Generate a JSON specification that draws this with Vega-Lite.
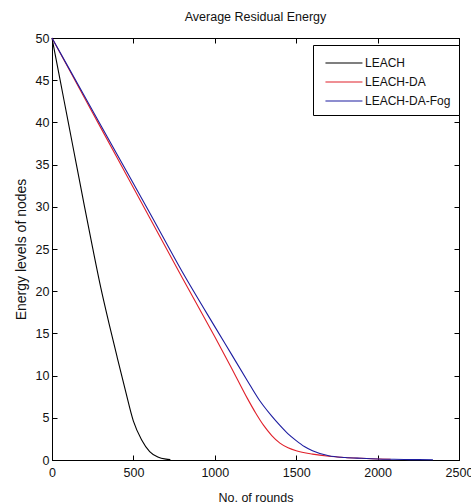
{
  "$schema": "https://vega.github.io/schema/vega-lite/v6.json",
  "autosize": "none",
  "width": 407,
  "height": 422,
  "padding": {"left": 52, "top": 38, "right": 12, "bottom": 44},
  "background": "white",
  "config": {
    "font": "Liberation Sans",
    "view": {"stroke": "black", "strokeWidth": 1},
    "axis": {"grid": false, "domainColor": "black", "tickColor": "black", "labelColor": "#111", "titleColor": "#111", "labelFont": "Liberation Sans", "titleFont": "Liberation Sans", "labelFontSize": 12.5, "titleFontSize": 12.5, "titleFontWeight": "normal", "tickSize": -5}
  },
  "title": {"text": "Average Residual Energy", "font": "Liberation Sans", "fontSize": 12.5, "fontWeight": "normal", "color": "#111", "offset": 9},
  "data": {"values": [
    {"series": "LEACH", "rounds": 0, "energy": 50},
    {"series": "LEACH", "rounds": 50, "energy": 45},
    {"series": "LEACH", "rounds": 100, "energy": 40},
    {"series": "LEACH", "rounds": 150, "energy": 35},
    {"series": "LEACH", "rounds": 200, "energy": 30},
    {"series": "LEACH", "rounds": 250, "energy": 25.1},
    {"series": "LEACH", "rounds": 300, "energy": 20.4},
    {"series": "LEACH", "rounds": 350, "energy": 16.2},
    {"series": "LEACH", "rounds": 400, "energy": 12.2},
    {"series": "LEACH", "rounds": 450, "energy": 8.3},
    {"series": "LEACH", "rounds": 500, "energy": 4.6},
    {"series": "LEACH", "rounds": 550, "energy": 2.4},
    {"series": "LEACH", "rounds": 600, "energy": 1.0},
    {"series": "LEACH", "rounds": 650, "energy": 0.35},
    {"series": "LEACH", "rounds": 700, "energy": 0.1},
    {"series": "LEACH", "rounds": 727, "energy": 0.05},
    {"series": "LEACH-DA", "rounds": 0, "energy": 50},
    {"series": "LEACH-DA", "rounds": 200, "energy": 42.9},
    {"series": "LEACH-DA", "rounds": 400, "energy": 35.8},
    {"series": "LEACH-DA", "rounds": 600, "energy": 28.7},
    {"series": "LEACH-DA", "rounds": 800, "energy": 21.6},
    {"series": "LEACH-DA", "rounds": 1000, "energy": 14.6},
    {"series": "LEACH-DA", "rounds": 1100, "energy": 11.0},
    {"series": "LEACH-DA", "rounds": 1200, "energy": 7.3},
    {"series": "LEACH-DA", "rounds": 1250, "energy": 5.6},
    {"series": "LEACH-DA", "rounds": 1300, "energy": 4.1},
    {"series": "LEACH-DA", "rounds": 1350, "energy": 2.9},
    {"series": "LEACH-DA", "rounds": 1400, "energy": 2.0},
    {"series": "LEACH-DA", "rounds": 1450, "energy": 1.45},
    {"series": "LEACH-DA", "rounds": 1500, "energy": 1.1},
    {"series": "LEACH-DA", "rounds": 1600, "energy": 0.7},
    {"series": "LEACH-DA", "rounds": 1700, "energy": 0.45},
    {"series": "LEACH-DA", "rounds": 1800, "energy": 0.3},
    {"series": "LEACH-DA", "rounds": 1900, "energy": 0.2},
    {"series": "LEACH-DA", "rounds": 2000, "energy": 0.12},
    {"series": "LEACH-DA", "rounds": 2080, "energy": 0.08},
    {"series": "LEACH-DA-Fog", "rounds": 0, "energy": 50},
    {"series": "LEACH-DA-Fog", "rounds": 200, "energy": 43.1},
    {"series": "LEACH-DA-Fog", "rounds": 400, "energy": 36.2},
    {"series": "LEACH-DA-Fog", "rounds": 600, "energy": 29.3},
    {"series": "LEACH-DA-Fog", "rounds": 800, "energy": 22.3},
    {"series": "LEACH-DA-Fog", "rounds": 1000, "energy": 15.8},
    {"series": "LEACH-DA-Fog", "rounds": 1100, "energy": 12.6},
    {"series": "LEACH-DA-Fog", "rounds": 1200, "energy": 9.4},
    {"series": "LEACH-DA-Fog", "rounds": 1270, "energy": 7.2},
    {"series": "LEACH-DA-Fog", "rounds": 1300, "energy": 6.4},
    {"series": "LEACH-DA-Fog", "rounds": 1350, "energy": 5.2},
    {"series": "LEACH-DA-Fog", "rounds": 1400, "energy": 4.1},
    {"series": "LEACH-DA-Fog", "rounds": 1450, "energy": 3.1},
    {"series": "LEACH-DA-Fog", "rounds": 1500, "energy": 2.3},
    {"series": "LEACH-DA-Fog", "rounds": 1550, "energy": 1.6},
    {"series": "LEACH-DA-Fog", "rounds": 1600, "energy": 1.1},
    {"series": "LEACH-DA-Fog", "rounds": 1700, "energy": 0.5},
    {"series": "LEACH-DA-Fog", "rounds": 1800, "energy": 0.3},
    {"series": "LEACH-DA-Fog", "rounds": 1900, "energy": 0.2},
    {"series": "LEACH-DA-Fog", "rounds": 2000, "energy": 0.12},
    {"series": "LEACH-DA-Fog", "rounds": 2100, "energy": 0.08},
    {"series": "LEACH-DA-Fog", "rounds": 2200, "energy": 0.05},
    {"series": "LEACH-DA-Fog", "rounds": 2340, "energy": 0.03}
  ]},
  "layer": [
    {
      "mark": {"type": "line", "interpolate": "monotone", "strokeWidth": 1.1},
      "encoding": {
        "x": {"field": "rounds", "type": "quantitative", "scale": {"domain": [0, 2500], "nice": false}, "axis": {"orient": "bottom", "values": [0, 500, 1000, 1500, 2000, 2500], "format": "d", "title": "No. of rounds", "labelPadding": 11, "titlePadding": 13, "labelFlush": false}},
        "y": {"field": "energy", "type": "quantitative", "scale": {"domain": [0, 50], "nice": false}, "axis": {"orient": "left", "values": [0, 5, 10, 15, 20, 25, 30, 35, 40, 45, 50], "title": "Energy levels  of nodes", "titleFontSize": 14, "labelPadding": 8, "titlePadding": 7}},
        "color": {"field": "series", "type": "nominal", "scale": {"domain": ["LEACH", "LEACH-DA", "LEACH-DA-Fog"], "range": ["#000000", "#e0202a", "#1c1ca0"]}, "legend": {"title": null, "orient": "none", "legendX": 261, "legendY": 7, "symbolType": "M-0.6,0H3.4", "symbolSize": 342, "symbolStrokeWidth": 1.1, "labelFontSize": 12, "labelFont": "Liberation Sans", "labelColor": "#111", "labelOffset": 24, "rowPadding": 3, "padding": 8, "strokeColor": "black", "fillColor": "white", "cornerRadius": 0}}
      }
    },
    {
      "mark": {"type": "line", "opacity": 0},
      "encoding": {
        "x": {"field": "rounds", "type": "quantitative", "axis": {"orient": "top", "values": [0, 500, 1000, 1500, 2000, 2500], "labels": false, "title": null}},
        "y": {"field": "energy", "type": "quantitative", "axis": {"orient": "right", "values": [0, 5, 10, 15, 20, 25, 30, 35, 40, 45, 50], "labels": false, "title": null}}
      }
    }
  ],
  "resolve": {"axis": {"x": "independent", "y": "independent"}}
}
